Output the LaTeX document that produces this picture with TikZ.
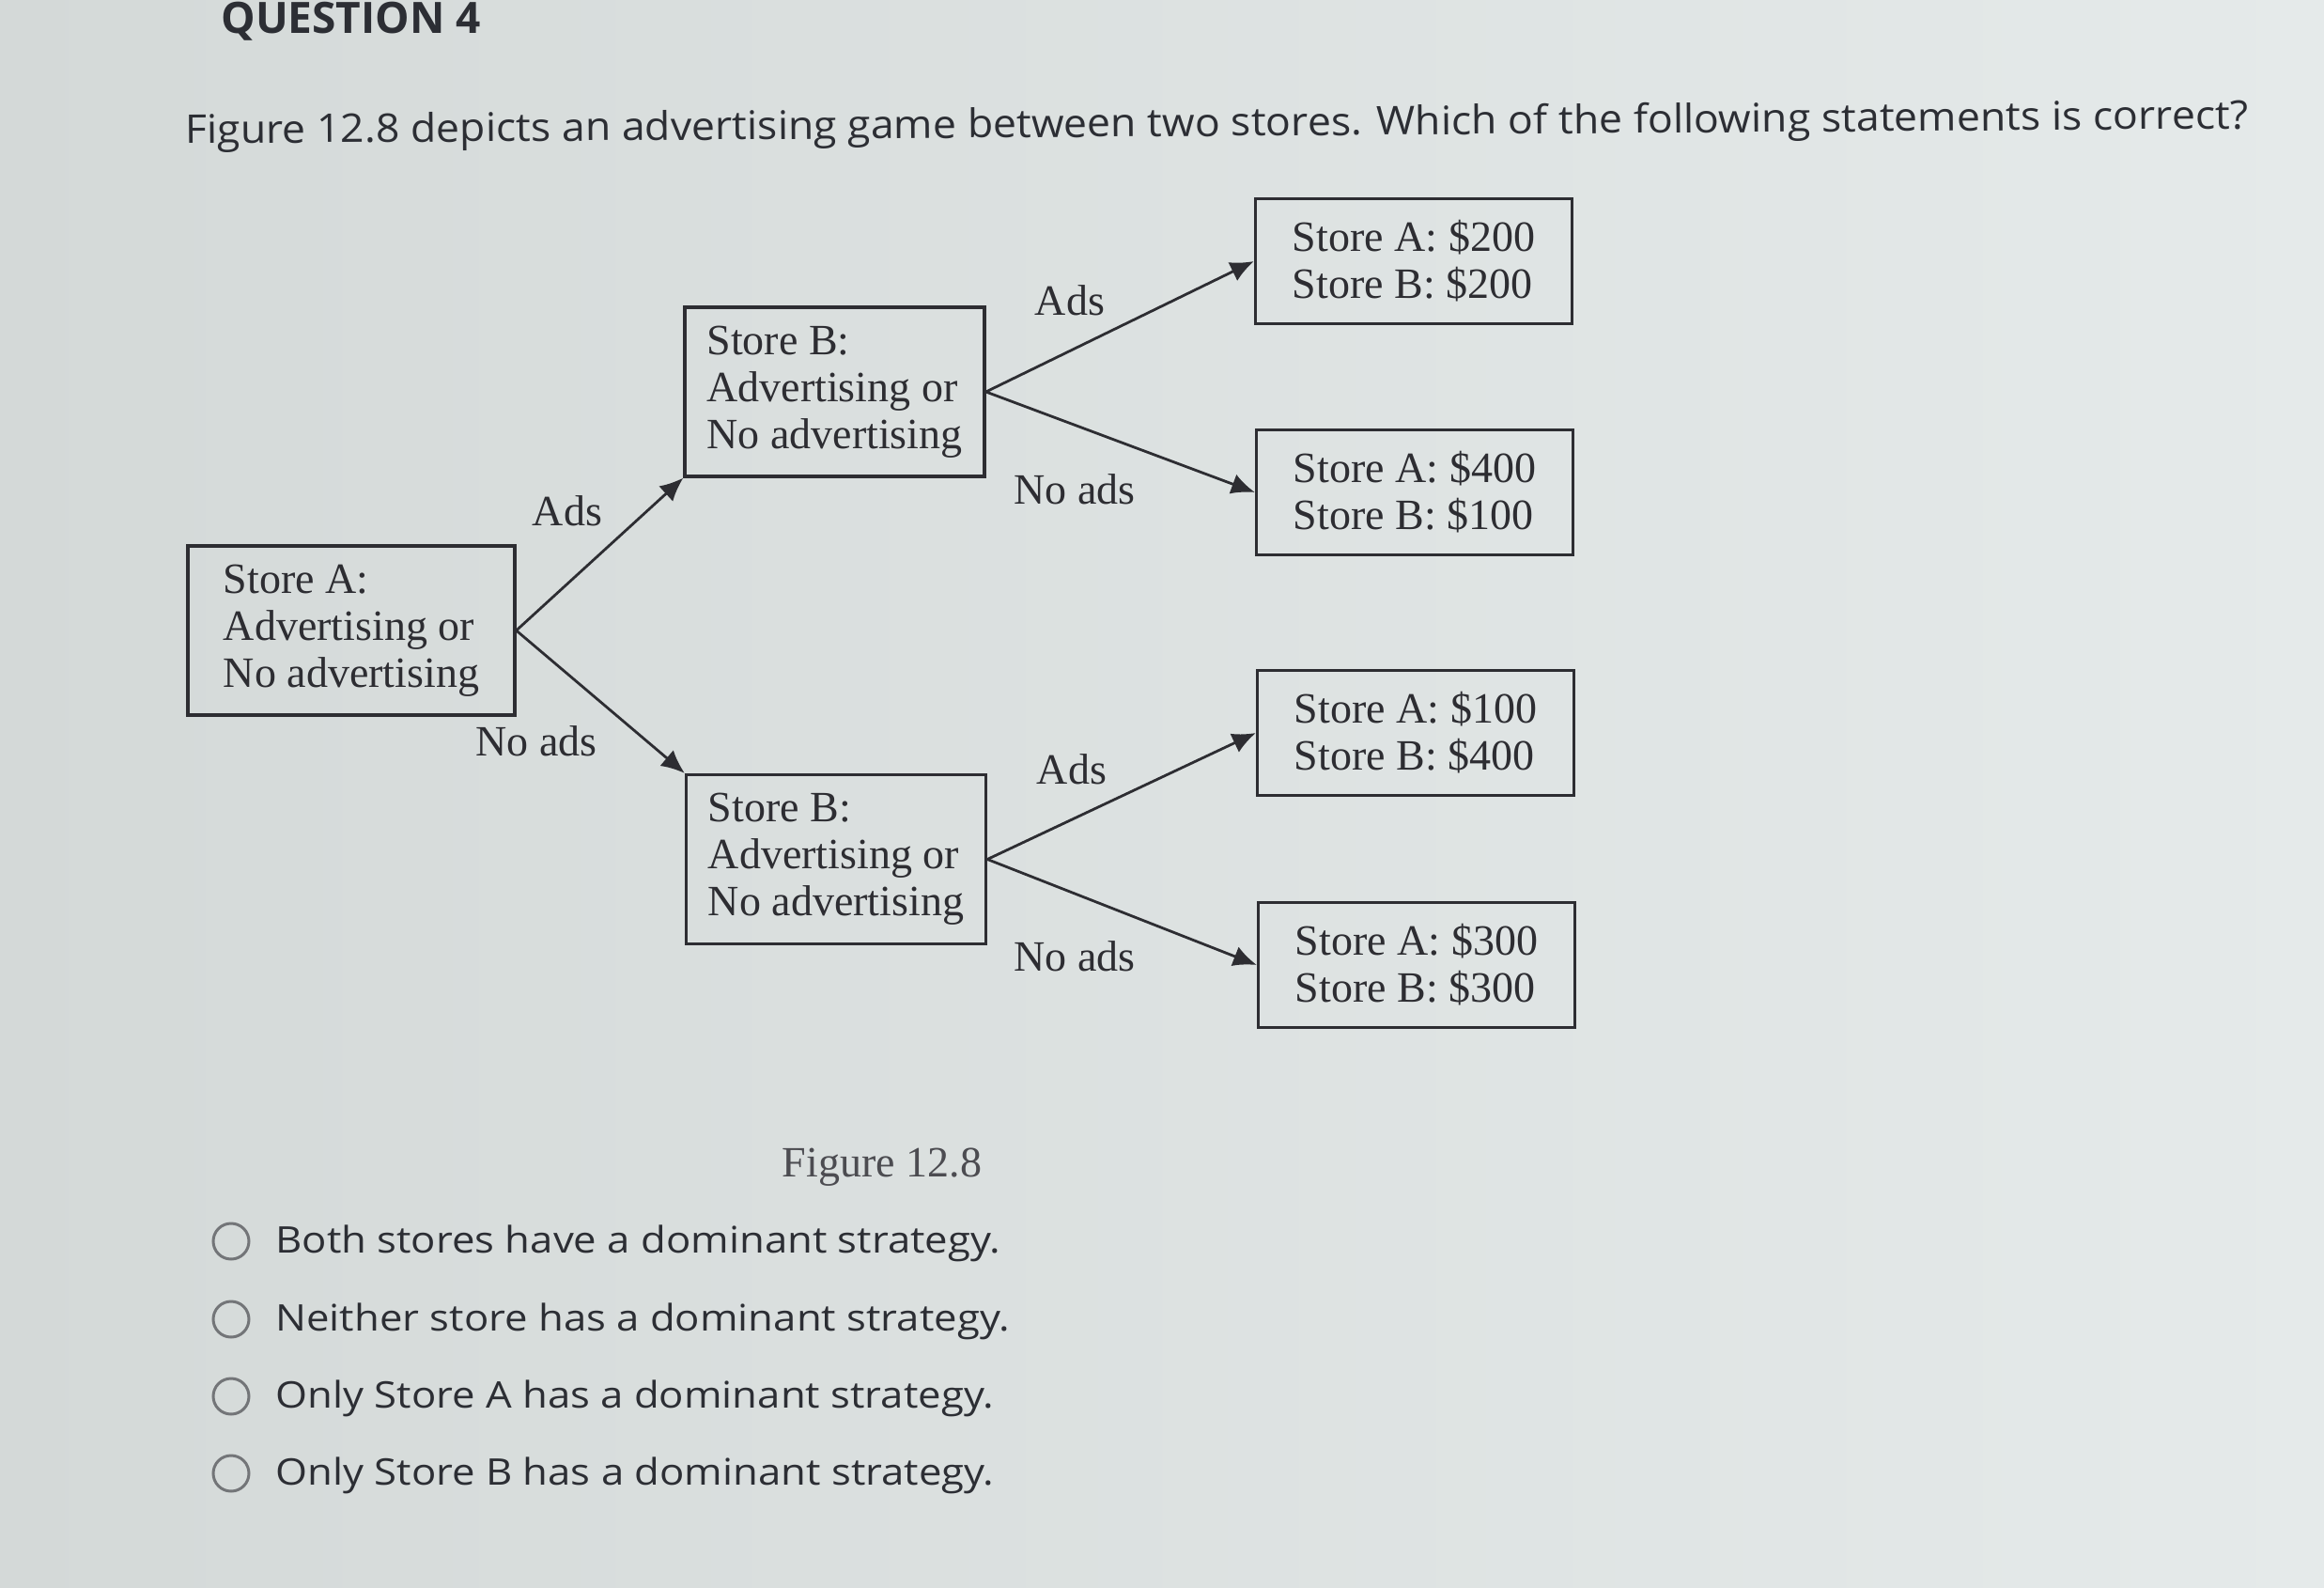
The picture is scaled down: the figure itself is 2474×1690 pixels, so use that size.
\documentclass[tikz,border=0pt]{standalone}
\usepackage{fontspec}
\setmainfont{Liberation Serif}
\newfontfamily\uisans{Open Sans}
\usetikzlibrary{arrows.meta}
\definecolor{bgL}{RGB}{212,217,216}
\definecolor{bgR}{RGB}{229,234,234}
\definecolor{ink}{RGB}{45,45,50}
\definecolor{uiink}{RGB}{44,46,52}
\definecolor{radio}{RGB}{115,117,120}
\begin{document}
\begin{tikzpicture}[x=0.5pt,y=-0.5pt,
  box/.style={draw=ink, line width=1.6pt, text=ink, font=\fontsize{23}{25}\selectfont, inner sep=0pt, align=left},
  decision/.style={box, minimum height=90pt},
  payoff/.style={box, minimum width=168.5pt, minimum height=66.5pt},
  lab/.style={text=ink, font=\fontsize{23}{25}\selectfont, inner sep=0pt},
  conn/.style={draw=ink, line width=1.4pt, -{Latex[length=12.5pt,width=11pt]}},
  uitext/.style={text=uiink, font=\uisans\fontsize{19.5}{24}\selectfont, inner sep=0pt, anchor=base west},
  radiobtn/.style={draw=radio, line width=1.5pt, circle, minimum size=19pt, inner sep=0pt}
]
\useasboundingbox (0,0) rectangle (2474,1690);
\shade[left color=bgL, right color=bgR] (0,0) rectangle (2474,1690);

\node[text=uiink, font=\uisans\bfseries\fontsize{23}{28}\selectfont, inner sep=0pt, anchor=base west] (qtitle) at (235,36) {QUESTION 4};
\node[uitext, font=\uisans\fontsize{21}{26}\selectfont, rotate=0.42] (qtext) at (197,153) {\scalebox{1.062}[1]{Figure 12.8 depicts an advertising game between two stores. Which of the following statements is correct?}};

% decision nodes
\node[decision, minimum width=174pt] (A) at (374,671) {Store A:\\Advertising or\\No advertising};
\node[decision, minimum width=159.5pt] (B1) at (888.5,417) {Store B:\\Advertising or\\No advertising};
\node[decision, minimum width=159.5pt] (B2) at (890,914.5) {Store B:\\Advertising or\\No advertising};

% payoff nodes
\node[payoff] (P1) at (1505,278) {Store A: \$200\\Store B: \$200};
\node[payoff] (P2) at (1506,524) {Store A: \$400\\Store B: \$100};
\node[payoff] (P3) at (1507,780) {Store A: \$100\\Store B: \$400};
\node[payoff] (P4) at (1508,1027) {Store A: \$300\\Store B: \$300};

% connectors
\draw[conn] (A.east) -- (B1.south west);
\draw[conn] (A.east) -- (B2.north west);
\draw[conn] (B1.east) -- (P1.west);
\draw[conn] (B1.east) -- (P2.west);
\draw[conn] (B2.east) -- (P3.west);
\draw[conn] (B2.east) -- (P4.west);

% branch labels
\node[lab] (l1) at (604,544) {Ads};
\node[lab] (l2) at (571,789) {No ads};
\node[lab] (l3) at (1139,320) {Ads};
\node[lab] (l4) at (1144,521) {No ads};
\node[lab] (l5) at (1141,819) {Ads};
\node[lab] (l6) at (1144,1018) {No ads};

\node[lab, text=ink!85] (cap) at (939,1242) {Figure 12.8};

% options
\node[radiobtn] (r1) at (246,1321) {};
\node[radiobtn] (r2) at (246,1404) {};
\node[radiobtn] (r3) at (246,1486) {};
\node[radiobtn] (r4) at (246,1568) {};
\node[uitext] (o1) at (293,1333) {\scalebox{1.12}[1]{Both stores have a dominant strategy.}};
\node[uitext] (o2) at (293,1416) {\scalebox{1.12}[1]{Neither store has a dominant strategy.}};
\node[uitext] (o3) at (293,1498) {\scalebox{1.12}[1]{Only Store A has a dominant strategy.}};
\node[uitext] (o4) at (293,1580) {\scalebox{1.12}[1]{Only Store B has a dominant strategy.}};
\end{tikzpicture}
\end{document}
